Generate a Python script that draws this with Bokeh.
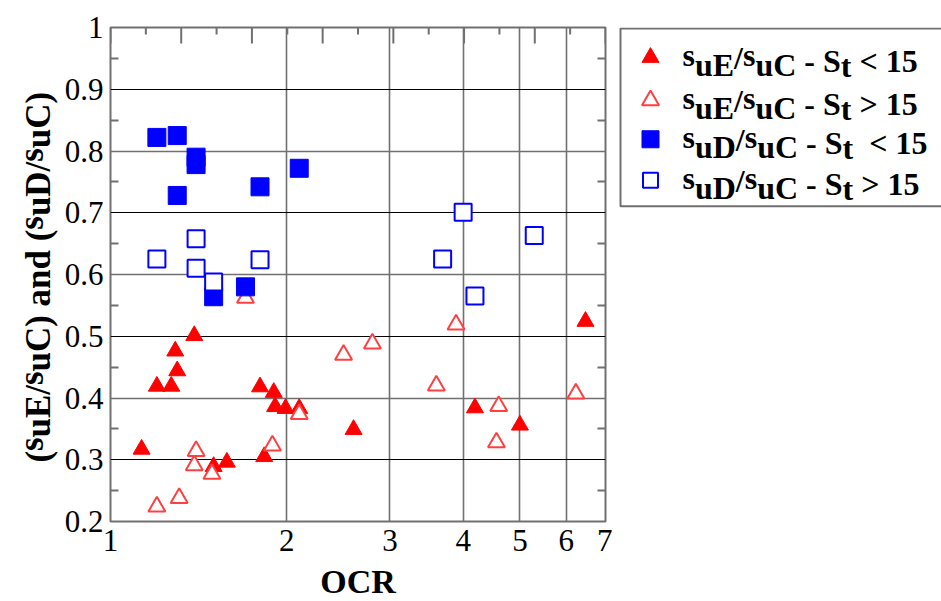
import math
from bokeh.plotting import figure
from bokeh.layouts import row
from bokeh.models import (Range1d, LinearAxis, FixedTicker, Grid, LinearScale,
                          PrintfTickFormatter, Label)
from bokeh.embed import file_html
from bokeh.resources import INLINE
from bokeh.core.properties import value

# ---------------- data ----------------
ocr_e_lo = [1.13, 1.20, 1.27, 1.30, 1.29, 1.39, 1.50, 1.58, 1.80, 1.90, 1.91, 1.99, 1.83, 2.10, 2.60, 4.19, 5.00, 6.47]
ratio_e_lo = [0.317, 0.419, 0.419, 0.444, 0.476, 0.501, 0.289, 0.296, 0.418, 0.409, 0.386, 0.383, 0.305, 0.383, 0.349, 0.384, 0.356, 0.524]

ocr_e_hi = [1.20, 1.31, 1.40, 1.39, 1.49, 1.70, 1.89, 2.10, 2.50, 2.80, 3.60, 3.89, 4.60, 4.56, 6.23]
ratio_e_hi = [0.224, 0.238, 0.314, 0.291, 0.277, 0.562, 0.323, 0.374, 0.470, 0.488, 0.420, 0.519, 0.387, 0.328, 0.407]

ocr_d_lo = [1.20, 1.30, 1.40, 1.40, 1.30, 1.80, 2.10, 1.50, 1.70]
ratio_d_lo = [0.822, 0.825, 0.790, 0.778, 0.728, 0.742, 0.772, 0.564, 0.580]

ocr_d_hi = [1.20, 1.40, 1.40, 1.50, 1.80, 4.00, 5.29, 3.69, 4.19]
ratio_d_hi = [0.625, 0.658, 0.610, 0.588, 0.624, 0.701, 0.663, 0.625, 0.565]

x_ticks = [1, 2, 3, 4, 5, 6, 7]
x_grid = [2, 3, 4, 5, 6]
y_ticks = [0.2, 0.3, 0.4, 0.5, 0.6, 0.7, 0.8, 0.9, 1.0]
y_minor = [0.25, 0.35, 0.45, 0.55, 0.65, 0.75, 0.85, 0.95]
y_grid_dark = [0.3, 0.5, 0.7, 0.9]
y_grid_gray = [0.4, 0.6, 0.8]
top_major = [0, 1, 2, 3, 4, 5, 6, 7]
top_minor = [0.5, 1.5, 2.5, 3.5, 4.5, 5.5, 6.5]

SERIF = "Liberation Serif"
GRAY = "#707070"
RED = "#ff0000"
RED_OPEN = "#ff4040"
BLUE = "#0000ff"

H = 601
TOP, FW, FH = 27, 495, 494   # frame top (page px) and frame size of the main plot
YL_W = 61                    # width of the y-title strip
MAIN_LEFT = 47               # left border of the main plot (tick labels)
MAIN_RIGHT = 7

# Times/Liberation Serif Bold advance widths (per 1000 em)
TNRB = {" ": 250, "(": 333, ")": 333, "s": 389, "u": 556, "E": 667, "/": 278,
        "C": 722, "D": 722, "a": 500, "n": 556, "d": 556, "-": 333, "S": 556,
        "t": 333, "<": 570, ">": 570, "1": 500, "5": 500}


def layout_pieces(tokens, size):
    out = []
    pos = 0.0
    for txt, dy in tokens:
        lead = len(txt) - len(txt.lstrip(" "))
        pos += lead * TNRB[" "] * size / 1000.0
        core = txt.strip(" ")
        if core:
            out.append((core, pos, dy))
            pos += sum(TNRB[c] for c in core) * size / 1000.0
            trail = len(txt) - len(txt.rstrip(" "))
            pos += trail * TNRB[" "] * size / 1000.0
    return out, pos


# ---------------- main plot ----------------
p = figure(frame_width=FW, frame_height=FH, x_axis_type="log", title=None,
           x_range=Range1d(1, 7), y_range=Range1d(0.2, 1.0),
           output_backend="svg", toolbar_location=None,
           min_border_left=MAIN_LEFT, min_border_right=MAIN_RIGHT, min_border_top=TOP, min_border_bottom=70,
           background_fill_color="white", border_fill_color="white")
p.outline_line_color = GRAY
p.outline_line_width = 2

p.xgrid.visible = False
p.ygrid.visible = False

p.add_layout(Grid(dimension=0, ticker=FixedTicker(ticks=x_grid), grid_line_color=GRAY, grid_line_width=1.6))
p.add_layout(Grid(dimension=1, ticker=FixedTicker(ticks=y_grid_gray), grid_line_color=GRAY, grid_line_width=1.6))
p.add_layout(Grid(dimension=1, ticker=FixedTicker(ticks=y_grid_dark), grid_line_color="black", grid_line_width=1.2))

xa = p.xaxis[0]
xa.ticker = FixedTicker(ticks=x_ticks, minor_ticks=[])
xa.formatter = PrintfTickFormatter(format="%d")
xa.major_tick_in = 0
xa.major_tick_out = 0
xa.minor_tick_in = 0
xa.minor_tick_out = 0
xa.axis_line_color = None
xa.major_label_standoff = 8
xa.major_label_text_font = SERIF
xa.major_label_text_font_size = "31px"
xa.major_label_text_color = "black"
xa.axis_label = "OCR"
xa.axis_label_text_font = SERIF
xa.axis_label_text_font_size = "34px"
xa.axis_label_text_font_style = "bold"
xa.axis_label_text_color = "black"
xa.axis_label_standoff = 9

ya = p.yaxis[0]
ya.ticker = FixedTicker(ticks=y_ticks, minor_ticks=y_minor)
ya.major_label_overrides = {1.0: "1"}
ya.major_tick_in = 0
ya.major_tick_out = 0
ya.minor_tick_in = 8
ya.minor_tick_out = 0
ya.minor_tick_line_color = GRAY
ya.minor_tick_line_width = 2
ya.axis_line_color = None
ya.major_label_standoff = 7
ya.major_label_text_font = SERIF
ya.major_label_text_font_size = "31px"
ya.major_label_text_color = "black"

# right axis: only inward minor ticks, no labels
ra = LinearAxis(ticker=FixedTicker(ticks=[], minor_ticks=y_minor),
                major_label_standoff=0, major_tick_in=0, major_tick_out=0,
                minor_tick_in=8, minor_tick_out=0,
                minor_tick_line_color=GRAY, minor_tick_line_width=2, axis_line_color=None)
p.add_layout(ra, "right")

# top edge: evenly spaced inward tick marks (linear helper range)
p.extra_x_ranges = {"top": Range1d(0, 7)}
p.extra_x_scales = {"top": LinearScale()}
p.extra_y_ranges = {"px": Range1d(0, FH)}
p.segment(x0=top_major, y0=[FH] * len(top_major), x1=top_major, y1=[FH - 16] * len(top_major),
          x_range_name="top", y_range_name="px", line_color=GRAY, line_width=2)
p.segment(x0=top_minor, y0=[FH] * len(top_minor), x1=top_minor, y1=[FH - 7] * len(top_minor),
          x_range_name="top", y_range_name="px", line_color=GRAY, line_width=2)

p.scatter(ocr_e_lo, ratio_e_lo, marker="triangle", size=17, fill_color=RED, line_color=RED, line_width=1)
p.scatter(ocr_e_hi, ratio_e_hi, marker="triangle", size=17, fill_color="white", line_color=RED_OPEN, line_width=2)
p.scatter(ocr_d_lo, ratio_d_lo, marker="square", size=18, fill_color=BLUE, line_color=BLUE, line_width=1)
p.scatter(ocr_d_hi, ratio_d_hi, marker="square", size=17, fill_color="white", line_color=BLUE, line_width=2)


# ---------------- helper figures (frames are aligned with the main frame) ----------------
def blank_fig(w):
    # y data = H - page_y ; the frame spans page rows TOP .. TOP+FH
    f = figure(width=w, height=H, x_range=Range1d(0, w),
               y_range=Range1d(H - (TOP + FH), H - TOP), title=None,
               output_backend="svg", toolbar_location=None,
               min_border=0, min_border_left=0, min_border_right=0,
               min_border_top=TOP, min_border_bottom=H - TOP - FH,
               x_axis_location=None, y_axis_location=None, outline_line_color=None,
               background_fill_color="white", border_fill_color="white")
    f.grid.visible = False
    return f


# y-axis title (rotated characters, raised "s")
yl = blank_fig(YL_W)
ylab_tokens = [("(", 0), ("s", -7), ("u", 0), ("E", 0), ("/", 0), ("s", -7), ("u", 0), ("C", 0), (")", 0),
               (" a", 0), ("n", 0), ("d ", 0), ("(", 0), ("s", -7), ("u", 0), ("D", 0), ("/", 0),
               ("s", -7), ("u", 0), ("C", 0), (")", 0)]
YL_SIZE = 35
pieces, total = layout_pieces(ylab_tokens, YL_SIZE)
base_x, start_py = 38, 463
for txt, pos, dy in pieces:
    yl.add_layout(Label(x=base_x + dy, y=H - start_py + pos, text=txt, angle=math.pi / 2,
                        text_font=SERIF, text_font_size=f"{YL_SIZE}px", text_font_style="bold",
                        text_align="left", text_baseline="alphabetic", text_color="black"))

# legend
LW = 941 - YL_W - (MAIN_LEFT + FW + MAIN_RIGHT)
lg = blank_fig(LW)
lg.quad(left=[8], right=[LW + 14], top=[H - 28], bottom=[H - 206],
        fill_color="white", line_color=GRAY, line_width=2)

leg_rows_py = [57, 100, 139, 180]
leg_marker_x = 38
leg_styles = [("triangle", 17, RED, RED, 1),
              ("triangle", 17, "white", RED_OPEN, 2),
              ("square", 17, BLUE, BLUE, 1),
              ("square", 15, "white", BLUE, 2)]
leg_tokens = [
    [("s", -6), ("uE", 4), ("/", -3), ("s", -6), ("uC", 4), (" - ", 0), ("S", 0), ("t", 5), (" < 15", 0)],
    [("s", -6), ("uE", 4), ("/", -3), ("s", -6), ("uC", 4), (" - ", 0), ("S", 0), ("t", 5), (" > 15", 0)],
    [("s", -6), ("uD", 4), ("/", -3), ("s", -6), ("uC", 4), (" - ", 0), ("S", 0), ("t", 5), ("  < 15", 0)],
    [("s", -6), ("uD", 4), ("/", -3), ("s", -6), ("uC", 4), (" - ", 0), ("S", 0), ("t", 5), (" > 15", 0)],
]
LG_SIZE = 32
text_x0 = 70
for py, (mk, sz, fc, lc, lw), toks in zip(leg_rows_py, leg_styles, leg_tokens):
    lg.scatter([leg_marker_x], [H - py], marker=mk, size=sz, fill_color=fc, line_color=lc, line_width=lw)
    pcs, _ = layout_pieces(toks, LG_SIZE)
    base_py = py + 4
    lg.text(x=[text_x0 + pos for _, pos, _ in pcs],
            y=[H - (base_py + dy) for _, _, dy in pcs],
            text=[t for t, _, _ in pcs],
            text_font=value(SERIF), text_font_size=f"{LG_SIZE}px", text_font_style="bold",
            text_align="left", text_baseline="alphabetic", text_color="black")

layout = row(yl, p, lg)
open("out.html", "w").write(file_html(layout, INLINE))
